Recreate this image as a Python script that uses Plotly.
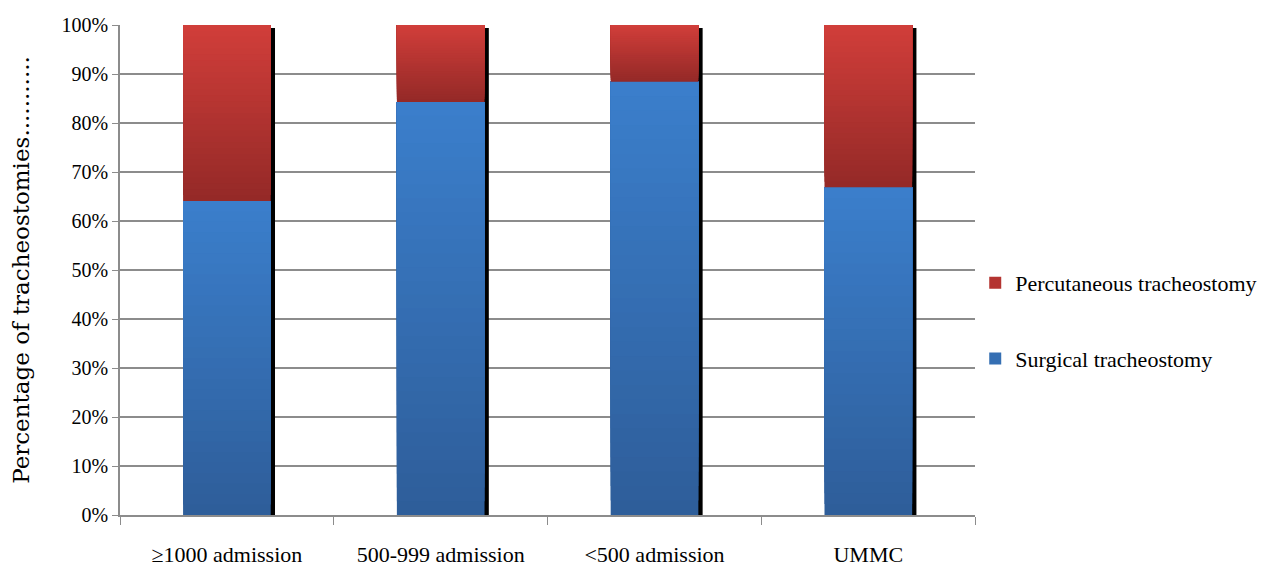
import plotly.graph_objects as go

categories = ["≥1000 admission", "500-999 admission", "<500 admission", "UMMC"]
surgical = [64.1, 84.3, 88.4, 66.9]
percutaneous = [35.9, 15.7, 11.6, 33.1]
series_names = ["Surgical tracheostomy", "Percutaneous tracheostomy"]
y_ticks = [0, 10, 20, 30, 40, 50, 60, 70, 80, 90, 100]
y_tick_text = ["%d%%" % v for v in y_ticks]
y_title = "Percentage of tracheostomies..........."

FONT = "Liberation Serif"
TITLE_FONT = "DejaVu Serif"
BAR_W = 0.41
N = 30


def lerp(c1, c2, t):
    return "rgb(%d,%d,%d)" % tuple(round(a + (b - a) * t) for a, b in zip(c1, c2))


fig = go.Figure()

# drop shadow
totals = [s + p for s, p in zip(surgical, percutaneous)]
fig.add_trace(go.Bar(
    x=categories, y=[t - 0.6 for t in totals], base=0,
    width=BAR_W, offset=-BAR_W / 2 + 0.02,
    marker=dict(color="black", line=dict(width=0)),
    showlegend=False, hoverinfo="skip"))

specs = [
    (series_names[0], [0] * 4, surgical, (46, 93, 153), (59, 127, 204), 2),
    (series_names[1], surgical, percutaneous, (148, 41, 39), (209, 62, 58), 1),
]
for name, bases, heights, c_bot, c_top, rank in specs:
    for i in range(N):
        t = (i + 0.5) / N
        fig.add_trace(go.Bar(
            x=categories,
            y=[h * (N - i) / N for h in heights],
            base=[b + h * i / N for b, h in zip(bases, heights)],
            width=BAR_W, offset=-BAR_W / 2,
            marker=dict(color=lerp(c_bot, c_top, t), line=dict(width=0)),
            name=name, legendgroup=name, legendrank=rank,
            showlegend=(i == N // 2),
            hovertemplate=name + "<extra></extra>"))

fig.update_layout(
    width=1270, height=567,
    barmode="overlay",
    plot_bgcolor="white", paper_bgcolor="white",
    margin=dict(l=112, r=300, t=17, b=60),
    font=dict(family=FONT, color="black", size=20),
    legend=dict(xref="container", yref="container", x=0.7616, y=0.448,
                xanchor="left", yanchor="middle",
                tracegroupgap=44, font=dict(size=22, family=FONT),
                itemwidth=30),
    xaxis=dict(
        type="category", tickson="boundaries", ticks="outside", ticklen=8,
        tickcolor="#8c8c8c", showline=True, linecolor="#8c8c8c", linewidth=1.5,
        tickfont=dict(size=22, family=FONT), showgrid=False, automargin=False,
        ticklabelstandoff=19),
    yaxis=dict(
        range=[0, 100], tickmode="array", tickvals=y_ticks, ticktext=y_tick_text,
        ticks="outside", automargin=False,
        ticklen=6, tickcolor="#8c8c8c", showline=True, linecolor="#8c8c8c",
        linewidth=1.5, showgrid=True, gridcolor="#8c8c8c", gridwidth=1.5,
        tickfont=dict(size=20, family=FONT), zeroline=False,
        title=dict(text=y_title,
                   font=dict(size=23, family=TITLE_FONT), standoff=40)),
)

fig.write_html("out.html")
